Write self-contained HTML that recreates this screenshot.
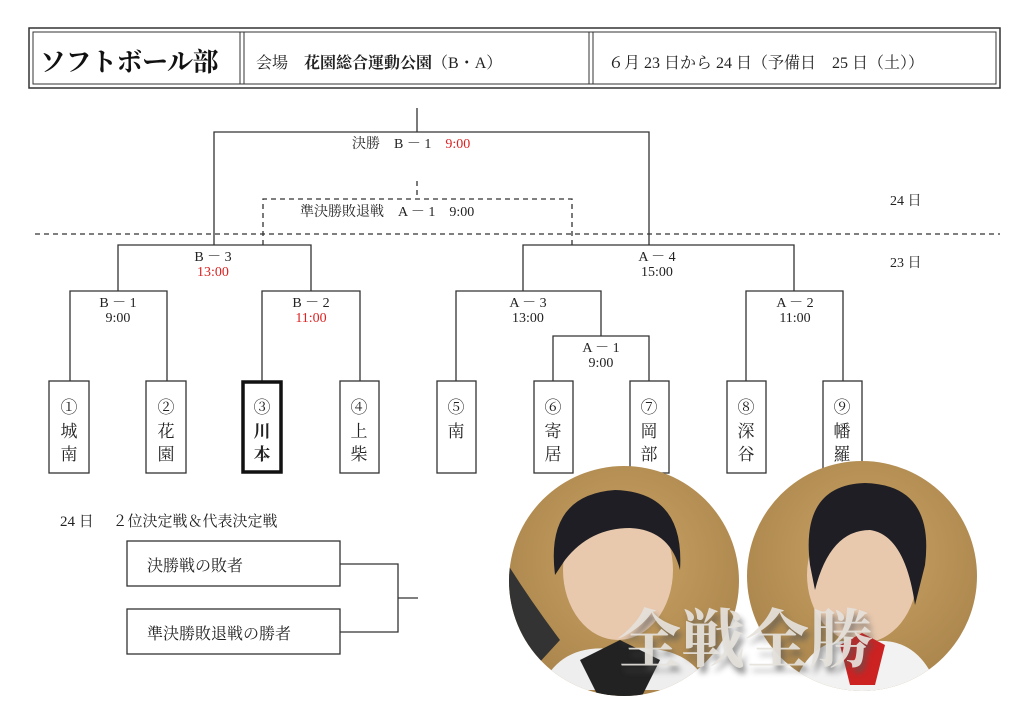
<!DOCTYPE html>
<html><head><meta charset="utf-8"><style>
html,body{margin:0;padding:0;background:#fff;}
svg{display:block;}
text{font-family:"Liberation Serif","Noto Serif CJK SC",serif;}
</style></head><body>
<svg width="1024" height="707" viewBox="0 0 1024 707" xmlns="http://www.w3.org/2000/svg">
<defs>
<radialGradient id="bg1" cx="50%" cy="40%" r="60%"><stop offset="0" stop-color="#c9a264"/><stop offset="1" stop-color="#a8834a"/></radialGradient>
<clipPath id="c1"><circle cx="624" cy="581" r="115"/></clipPath>
<clipPath id="c2"><circle cx="862" cy="576" r="115"/></clipPath>
<filter id="sh" x="-10%" y="-30%" width="120%" height="160%"><feGaussianBlur stdDeviation="3"/></filter>
</defs>
<g fill="#222">
<!-- header -->
<rect x="29" y="28" width="971" height="60" fill="none" stroke="#333" stroke-width="1.5"/>
<rect x="33" y="32" width="963" height="52" fill="none" stroke="#333" stroke-width="1"/>
<line x1="240" y1="32" x2="240" y2="84" stroke="#333"/><line x1="244" y1="32" x2="244" y2="84" stroke="#333"/>
<line x1="589" y1="32" x2="589" y2="84" stroke="#333"/><line x1="593" y1="32" x2="593" y2="84" stroke="#333"/>
<text x="40" y="71" font-size="26" font-weight="bold" style="fill:#111" letter-spacing="-0.5">ソフトボール部</text>
<text x="256" y="68" font-size="16">会場　<tspan font-weight="bold">花園総合運動公園</tspan>（B・A）</text>
<text x="608" y="68" font-size="16">６月 23 日から 24 日（予備日　25 日（土））</text>

<g stroke="#333" stroke-width="1.3" fill="none">
<path d="M417 108V132M214 245V132H649V245"/>
<path d="M118 291V245H311V291M70 381V291H167V381M262 381V291H360V381"/>
<path d="M523 291V245H794V291M456 381V291H601V336M553 381V336H649V381M746 381V291H843V381"/>
<path d="M340 564H398V632H340M398 598H418"/>
</g>
<g stroke="#333" stroke-width="1.3" fill="none" stroke-dasharray="5,4">
<path d="M417 181V197M263 245V199H572V245"/>
<path d="M35 234H1000"/>
</g>
<text x="352" y="148" font-size="14">決勝　B － 1　<tspan style="fill:#d22">9:00</tspan></text>
<text x="300" y="216" font-size="14">準決勝敗退戦　A － 1　9:00</text>
<text x="890" y="205" font-size="14">24 日</text>
<text x="890" y="267" font-size="14">23 日</text>
<g font-size="14" text-anchor="middle">
<text x="213" y="261">B － 3</text><text x="213" y="276" style="fill:#d22">13:00</text>
<text x="118" y="307">B － 1</text><text x="118" y="322">9:00</text>
<text x="311" y="307">B － 2</text><text x="311" y="322" style="fill:#d22">11:00</text>
<text x="657" y="261">A － 4</text><text x="657" y="276">15:00</text>
<text x="528" y="307">A － 3</text><text x="528" y="322">13:00</text>
<text x="601" y="352">A － 1</text><text x="601" y="367">9:00</text>
<text x="795" y="307">A － 2</text><text x="795" y="322">11:00</text>
</g>
<g fill="#fff" stroke="#333" stroke-width="1.3">
<rect x="49" y="381" width="40" height="92"/><rect x="146" y="381" width="40" height="92"/>
<rect x="340" y="381" width="39" height="92"/><rect x="437" y="381" width="39" height="92"/>
<rect x="534" y="381" width="39" height="92"/><rect x="630" y="381" width="39" height="92"/>
<rect x="727" y="381" width="39" height="92"/><rect x="823" y="381" width="39" height="92"/>
<rect x="127" y="541" width="213" height="45"/><rect x="127" y="609" width="213" height="45"/>
</g>
<rect x="243" y="382" width="38" height="90" fill="#fff" stroke="#111" stroke-width="3.5"/>
<g font-size="17" text-anchor="middle">
<text x="69" y="413">①</text><text x="69" y="437">城</text><text x="69" y="460">南</text>
<text x="166" y="413">②</text><text x="166" y="437">花</text><text x="166" y="460">園</text>
<text x="262" y="413">③</text><text x="262" y="437" font-weight="bold">川</text><text x="262" y="460" font-weight="bold">本</text>
<text x="359" y="413">④</text><text x="359" y="437">上</text><text x="359" y="460">柴</text>
<text x="456" y="413">⑤</text><text x="456" y="437">南</text>
<text x="553" y="413">⑥</text><text x="553" y="437">寄</text><text x="553" y="460">居</text>
<text x="649" y="413">⑦</text><text x="649" y="437">岡</text><text x="649" y="460">部</text>
<text x="746" y="413">⑧</text><text x="746" y="437">深</text><text x="746" y="460">谷</text>
<text x="842" y="413">⑨</text><text x="842" y="437">幡</text><text x="842" y="460">羅</text>
</g>
<text x="60" y="526" font-size="15">24 日　 ２位決定戦＆代表決定戦</text>
<text x="147" y="571" font-size="16">決勝戦の敗者</text>
<text x="147" y="639" font-size="16">準決勝敗退戦の勝者</text>
</g>

<!-- photos -->
<g clip-path="url(#c1)">
<rect x="500" y="460" width="250" height="250" fill="url(#bg1)"/>
<path d="M505 560 Q530 600 560 640 L505 700Z" fill="#333"/>
<ellipse cx="618" cy="570" rx="55" ry="70" fill="#e8c9ae"/>
<path d="M555 575 Q545 495 615 490 Q685 492 680 570 Q670 530 630 528 Q590 528 565 560Z" fill="#1e1e24"/>
<path d="M540 690 Q560 640 620 650 Q690 640 710 690Z" fill="#eee"/>
<path d="M580 660 L620 640 L660 660 L640 700 L600 700Z" fill="#222"/>
</g>
<g clip-path="url(#c2)">
<rect x="740" y="455" width="250" height="250" fill="url(#bg1)"/>
<ellipse cx="862" cy="575" rx="55" ry="68" fill="#e8c9ae"/>
<path d="M810 565 Q800 485 865 483 Q935 485 925 565 L915 605 Q905 535 870 530 Q830 530 815 590Z" fill="#1e1e24"/>
<path d="M790 695 Q810 630 862 643 Q920 630 940 695Z" fill="#f2f2f2"/>
<path d="M840 645 L862 633 L885 645 L875 685 L850 685Z" fill="#c22"/>
</g>
<text x="748" y="668" font-size="64" font-weight="bold" text-anchor="middle" style="fill:#555;opacity:0.6" filter="url(#sh)" font-family="'Noto Serif CJK SC',serif">全戦全勝</text>
<text x="745" y="662" font-size="64" font-weight="bold" text-anchor="middle" style="fill:#e6e2dc;opacity:0.92" font-family="'Noto Serif CJK SC',serif">全戦全勝</text>
</svg>
</body></html>
